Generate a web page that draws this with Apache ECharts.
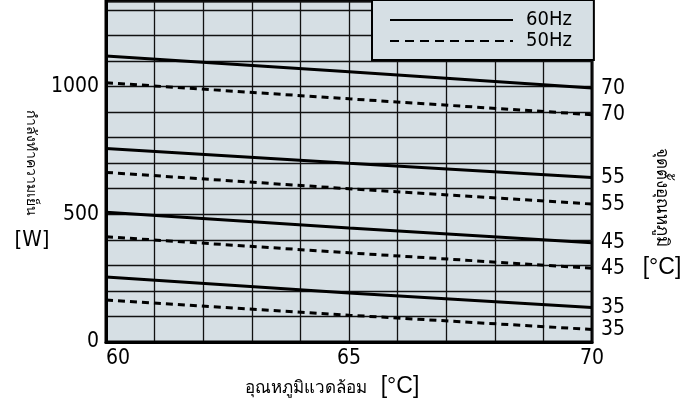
<!DOCTYPE html>
<html><head><meta charset="utf-8">
<script src="https://cdn.jsdelivr.net/npm/echarts@6/dist/echarts.min.js"></script>
<style>html,body{margin:0;padding:0;background:#fff}#c{width:700px;height:405px}</style>
</head><body><div id="c"></div>
<script>
// Ambient temperature [°C]
const ambientTemps = [60, 65, 70];
// Cooling capacity [W] per set-point temperature
const cap60Hz_70 = [1120, 1058, 994];
const cap50Hz_70 = [1015, 952, 890];
const cap60Hz_55 = [758, 700, 644];
const cap50Hz_55 = [664, 600, 540];
const cap60Hz_45 = [508, 446, 389];
const cap50Hz_45 = [412, 349, 289];
const cap60Hz_35 = [254, 192, 135];
const cap50Hz_35 = [164, 105, 49];
const xTickLabels = [60, 65, 70];
const yTickLabels = [0, 500, 1000];
const seriesDefs = [
  {name: '60Hz', setPoint: '70', values: cap60Hz_70},
  {name: '50Hz', setPoint: '70', values: cap50Hz_70},
  {name: '60Hz', setPoint: '55', values: cap60Hz_55},
  {name: '50Hz', setPoint: '55', values: cap50Hz_55},
  {name: '60Hz', setPoint: '45', values: cap60Hz_45},
  {name: '50Hz', setPoint: '45', values: cap50Hz_45},
  {name: '60Hz', setPoint: '35', values: cap60Hz_35},
  {name: '50Hz', setPoint: '35', values: cap50Hz_35}
];

const NARROW = '"Liberation Sans Narrow", "DejaVu Sans Condensed", "Arial Narrow", sans-serif';
const BG = '#d6dfe4';
const chart = echarts.init(document.getElementById('c'));

const series = seriesDefs.map(d => ({
  name: d.name,
  type: 'line',
  data: d.values.map((v, i) => [ambientTemps[i], v]),
  symbol: 'none',
  itemStyle: {color: '#000'},
  lineStyle: {color: '#000', width: 3, type: d.name === '50Hz' ? [7, 5] : 'solid'},
  z: 3,
  endLabel: {
    show: true,
    formatter: () => d.setPoint,
    distance: 9,
    fontSize: 21,
    fontFamily: NARROW,
    color: '#000'
  },
  emphasis: {disabled: true}
}));

chart.setOption({
  animation: false,
  grid: {left: 106, right: 108, top: 1, bottom: 63, show: true, backgroundColor: BG, borderColor: '#000', borderWidth: 3},
  legend: {
    orient: 'vertical', left: 372, top: 0,
    data: [
      {name: '60Hz', lineStyle: {width: 2, type: 'solid', color: '#000'}},
      {name: '50Hz', lineStyle: {width: 2, type: [9, 6], color: '#000'}}
    ],
    itemStyle: {opacity: 0},
    padding: [10, 22, 9, 17],
    itemWidth: 123, itemHeight: 14, itemGap: 1,
    backgroundColor: BG, borderColor: '#000', borderWidth: 2,
    textStyle: {fontSize: 20, lineHeight: 20, fontFamily: NARROW, color: '#000', padding: [0, 0, 0, 8]},
    selectedMode: false
  },
  xAxis: {
    type: 'value', min: 60, max: 70, interval: 1,
    axisLine: {show: true, lineStyle: {color: '#000', width: 3}},
    axisTick: {show: false},
    splitLine: {show: true, lineStyle: {color: '#111', width: 1.3}},
    axisLabel: {
      fontSize: 21, fontFamily: NARROW, color: '#000', margin: 6,
      alignMinLabel: 'left',
      formatter: v => xTickLabels.includes(v) ? String(v) : ''
    }
  },
  yAxis: {
    type: 'value', min: 0, max: 1335, interval: 100,
    axisLine: {show: true, lineStyle: {color: '#000', width: 3}},
    axisTick: {show: false},
    splitLine: {show: true, lineStyle: {color: '#111', width: 1.3}},
    axisLabel: {
      fontSize: 21, fontFamily: NARROW, color: '#000', margin: 7, padding: [0, 0, 6, 0],
      formatter: v => yTickLabels.includes(v) ? String(v) : ''
    }
  },
  graphic: [
    {type: 'text', x: 31, y: 163, rotation: -Math.PI / 2,
      style: {text: 'กำลังทำความเย็น', fontSize: 14, fill: '#000', align: 'center', verticalAlign: 'middle'}},
    {type: 'text', x: 32, y: 240,
      style: {text: '[W]', fontSize: 22, fontFamily: NARROW, fill: '#000', align: 'center', verticalAlign: 'middle'}},
    {type: 'text', x: 662, y: 197, rotation: -Math.PI / 2,
      style: {text: 'จุดตั้งอุณหภูมิ', fontSize: 17, fill: '#000', align: 'center', verticalAlign: 'middle'}},
    {type: 'text', x: 662, y: 268,
      style: {text: '[°C]', fontSize: 23, fontFamily: '"Liberation Sans", Arial, sans-serif', fill: '#000', align: 'center', verticalAlign: 'middle'}},
    {type: 'text', x: 367, y: 388,
      style: {text: 'อุณหภูมิแวดล้อม', fontSize: 17, fill: '#000', align: 'right', verticalAlign: 'middle'}},
    {type: 'text', x: 400, y: 387,
      style: {text: '[°C]', fontSize: 23, fontFamily: '"Liberation Sans", Arial, sans-serif', fill: '#000', align: 'center', verticalAlign: 'middle'}}
  ],
  series: series
});
</script>
</body></html>
